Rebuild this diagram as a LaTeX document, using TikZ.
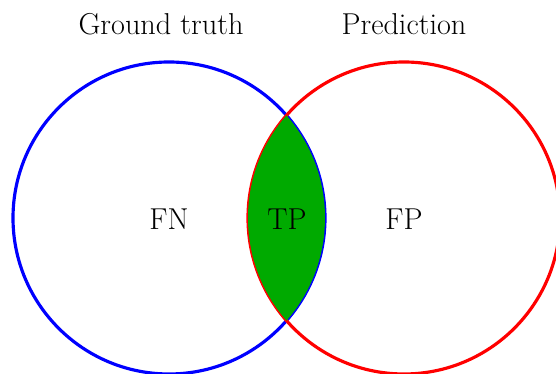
\documentclass[tikz,border=0pt]{standalone}
\usepackage{tikz}
\definecolor{tpgreen}{RGB}{0,170,0}

\begin{document}
\begin{tikzpicture}[x=0.02cm, y=-0.02cm, font=\fontsize{17.2}{20}\selectfont]
			\def\R{156}
			\useasboundingbox (0,0) rectangle (556,374);

			\coordinate (GTc) at (169,218);
			\coordinate (PRc) at (404,218);

			\draw[blue, line width=1.8pt] (GTc) circle (\R);
			\draw[red, line width=1.8pt] (PRc) circle (\R);

			\begin{scope}
				\clip (GTc) circle (\R);
				\fill[tpgreen] (PRc) circle (\R);
			\end{scope}

			\node (GT) at (161,24) {Ground truth};
			\node (PR) at (404,24) {Prediction};

			\node (FN) at (169,219) {FN};
			\node (TP) at (287,219) {TP};
			\node (FP) at (404,219) {FP};
		\end{tikzpicture}
\end{document}
